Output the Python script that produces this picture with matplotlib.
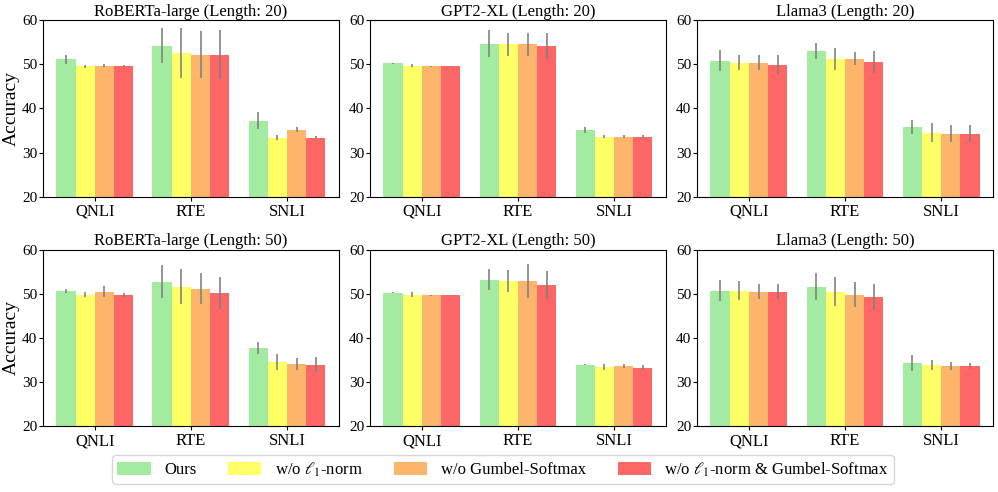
import matplotlib
matplotlib.use("Agg")
import matplotlib.pyplot as plt
import numpy as np

plt.rcParams['font.family'] = ['Liberation Serif', 'DejaVu Serif']
plt.rcParams['mathtext.fontset'] = 'stix'

datasets = ["QNLI", "RTE", "SNLI"]
methods = ["Ours", r"w/o $\ell_1$-norm", "w/o Gumbel-Softmax", r"w/o $\ell_1$-norm & Gumbel-Softmax"]
colors = ["#a3eba0", "#ffff66", "#fdb56b", "#ff6666"]

titles = ["RoBERTa-large (Length: 20)", "GPT2-XL (Length: 20)", "Llama3 (Length: 20)",
          "RoBERTa-large (Length: 50)", "GPT2-XL (Length: 50)", "Llama3 (Length: 50)"]

# means[panel][method][dataset]
roberta20_mean = [[51.1, 54.2, 37.2], [49.5, 52.6, 33.4], [49.7, 52.2, 35.2], [49.5, 52.2, 33.4]]
roberta20_err = [[1.0, 4.0, 1.9], [0.4, 5.6, 0.6], [0.3, 5.4, 0.5], [0.3, 5.6, 0.3]]
gpt20_mean = [[50.2, 54.7, 35.2], [49.7, 54.5, 33.6], [49.5, 54.5, 33.6], [49.5, 54.2, 33.6]]
gpt20_err = [[0.1, 3.0, 0.7], [0.4, 2.7, 0.4], [0.1, 2.7, 0.3], [0.1, 2.9, 0.4]]
llama20_mean = [[50.8, 53.1, 35.8], [50.4, 51.1, 34.5], [50.4, 51.3, 34.3], [49.9, 50.6, 34.3]]
llama20_err = [[2.4, 1.8, 1.6], [1.7, 2.5, 2.1], [1.7, 1.4, 1.9], [2.2, 2.5, 1.9]]
roberta50_mean = [[50.7, 52.7, 37.7], [49.8, 51.6, 34.6], [50.5, 51.1, 34.1], [49.6, 50.2, 33.9]]
roberta50_err = [[0.45, 3.7, 1.3], [0.6, 3.9, 1.8], [1.25, 3.5, 1.4], [0.45, 3.6, 1.75]]
gpt50_mean = [[50.2, 53.2, 33.9], [49.8, 52.9, 33.4], [49.6, 52.9, 33.6], [49.6, 52.0, 33.2]]
gpt50_err = [[0.1, 2.3, 0.1], [0.6, 2.4, 0.6], [0.1, 3.8, 0.4], [0.1, 3.2, 0.6]]
llama50_mean = [[50.7, 51.6, 34.3], [50.7, 50.5, 33.8], [50.5, 49.8, 33.6], [50.5, 49.3, 33.6]]
llama50_err = [[2.3, 3.0, 1.8], [2.2, 3.2, 1.1], [1.6, 2.9, 1.0], [1.6, 3.0, 0.7]]

means = [roberta20_mean, gpt20_mean, llama20_mean, roberta50_mean, gpt50_mean, llama50_mean]
errs = [roberta20_err, gpt20_err, llama20_err, roberta50_err, gpt50_err, llama50_err]

fig, axes = plt.subplots(2, 3, figsize=(9.98, 4.92), dpi=100)
fig.subplots_adjust(left=0.043, right=0.995, bottom=0.134, top=0.959, wspace=0.105, hspace=0.30)

x = np.arange(len(datasets))
w = 0.2
for i, ax in enumerate(axes.flat):
    for j in range(4):
        ax.bar(x + (j - 1.5) * w, means[i][j], w, yerr=errs[i][j], color=colors[j],
               label=methods[j], error_kw=dict(ecolor='gray', elinewidth=1.3, capsize=0, alpha=0.9))
    ax.set_ylim(20, 60)
    ax.set_yticks([20, 30, 40, 50, 60])
    ax.set_xticks(x)
    ax.set_xticklabels(datasets, fontsize=12)
    ax.tick_params(axis='y', labelsize=11, length=3, pad=1)
    ax.tick_params(axis='x', length=3, pad=2)
    ax.set_title(titles[i], fontsize=12, pad=3)
    if i % 3 == 0:
        ax.set_ylabel("Accuracy", fontsize=14, labelpad=2)

handles, labels = axes.flat[0].get_legend_handles_labels()
fig.legend(handles, labels, loc='lower center', bbox_to_anchor=(0.504, 0.0), ncol=4,
           fontsize=12, handlelength=2.0, handleheight=0.75, columnspacing=1.9, handletextpad=0.8,
           borderpad=0.3, frameon=True, fancybox=True)

fig.savefig("out.png", dpi=100)
